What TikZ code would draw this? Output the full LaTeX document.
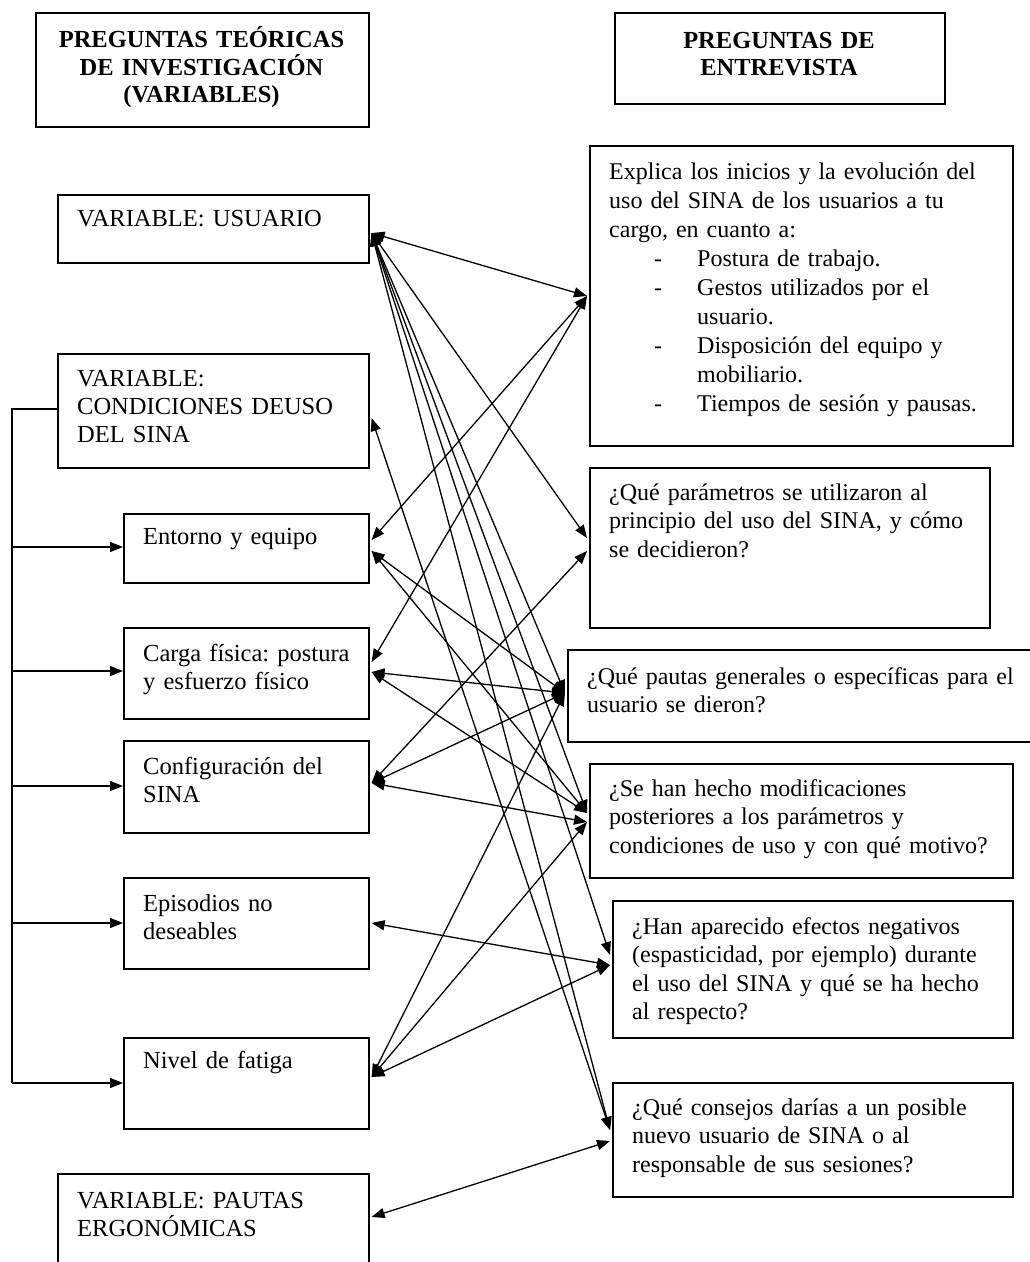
\documentclass[tikz,border=0pt]{standalone}
\usepackage{fontspec}
\setmainfont{Liberation Serif}
\usetikzlibrary{arrows.meta}
\frenchspacing
\begin{document}
\begin{tikzpicture}[x=1pt,y=-1pt,
  bx/.style={draw, line width=1.6pt, anchor=north west, inner sep=0pt},
  txt/.style={anchor=base west, inner sep=0pt, align=left, text width=440pt, font=\fontsize{24.5}{28.5}\selectfont},
  qtxt/.style={txt, font=\fontsize{24}{28.5}\selectfont},
  hd/.style={anchor=base, inner sep=0pt, align=center, text width=320pt, font=\fontsize{24.5}{27.5}\selectfont\bfseries},
  tip/.tip={Triangle[length=13pt,width=10pt]},
  con/.style={line width=1.3pt, tip-tip},
  brk/.style={line width=1.3pt, -tip}
]
\useasboundingbox (0,0) rectangle (1029,1262);
% headers
\node[bx, minimum width=333pt, minimum height=114pt] (hL) at (35,12) {};
\node[bx, minimum width=330pt, minimum height=91pt] (hR) at (614,12) {};
\node[hd] (hLt) at (201.5,47.5) {PREGUNTAS TEÓRICAS\\DE INVESTIGACIÓN\\(VARIABLES)};
\node[hd] (hRt) at (779,48) {PREGUNTAS DE\\ENTREVISTA};
% left boxes
\node[bx, minimum width=311pt, minimum height=68pt] (vU) at (57,194) {};
\node[bx, minimum width=311pt, minimum height=114pt] (vC) at (57,353) {};
\node[bx, minimum width=245pt, minimum height=69pt] (vE) at (123,513) {};
\node[bx, minimum width=245pt, minimum height=91pt] (vCa) at (123,627) {};
\node[bx, minimum width=245pt, minimum height=92pt] (vCf) at (123,740) {};
\node[bx, minimum width=245pt, minimum height=91pt] (vEp) at (123,877) {};
\node[bx, minimum width=245pt, minimum height=91pt] (vN) at (123,1037) {};
\node[bx, minimum width=311pt, minimum height=110pt] (vP) at (57,1173) {};
\node[txt] (vUt) at (77,226) {VARIABLE: USUARIO};
\node[txt, font=\fontsize{24.5}{28}\selectfont] (vCt) at (77,386) {VARIABLE:\\CONDICIONES DEUSO\\DEL SINA};
\node[txt] (vEt) at (143,544) {Entorno y equipo};
\node[txt] (vCat) at (143,661) {Carga física: postura\\y esfuerzo físico};
\node[txt] (vCft) at (143,774) {Configuración del\\SINA};
\node[txt] (vEpt) at (143,911) {Episodios no\\deseables};
\node[txt] (vNt) at (143,1068) {Nivel de fatiga};
\node[txt] (vPt) at (77,1208) {VARIABLE: PAUTAS\\ERGONÓMICAS};
% right boxes
\node[bx, minimum width=423pt, minimum height=300pt] (q1) at (589,145) {};
\node[bx, minimum width=400pt, minimum height=160pt] (q2) at (589,467) {};
\node[bx, minimum width=480pt, minimum height=92pt] (q3) at (567,649) {};
\node[bx, minimum width=423pt, minimum height=114pt] (q4) at (589,763) {};
\node[bx, minimum width=400pt, minimum height=137pt] (q5) at (612,900) {};
\node[bx, minimum width=400pt, minimum height=114pt] (q6) at (612,1082) {};
\node[qtxt, font=\fontsize{24}{29}\selectfont] (q1t) at (609,179) {Explica los inicios y la evolución del\\uso del SINA de los usuarios a tu\\cargo, en cuanto a:\\
\hspace*{45pt}\makebox[43pt][l]{-}Postura de trabajo.\\
\hspace*{45pt}\makebox[43pt][l]{-}Gestos utilizados por el\\
\hspace*{88pt}usuario.\\
\hspace*{45pt}\makebox[43pt][l]{-}Disposición del equipo y\\
\hspace*{88pt}mobiliario.\\
\hspace*{45pt}\makebox[43pt][l]{-}Tiempos de sesión y pausas.};
\node[qtxt] (q2t) at (609,500) {¿Qué parámetros se utilizaron al\\principio del uso del SINA, y cómo\\se decidieron?};
\node[qtxt] (q3t) at (587,684) {¿Qué pautas generales o específicas para el\\usuario se dieron?};
\node[qtxt] (q4t) at (609,796) {¿Se han hecho modificaciones\\posteriores a los parámetros y\\condiciones de uso y con qué motivo?};
\node[qtxt] (q5t) at (632,934) {¿Han aparecido efectos negativos\\(espasticidad, por ejemplo) durante\\el uso del SINA y qué se ha hecho\\al respecto?};
\node[qtxt] (q6t) at (632,1115) {¿Qué consejos darías a un posible\\nuevo usuario de SINA o al\\responsable de sus sesiones?};
% connector end points
\coordinate (aU) at ([xshift=2pt]vU.east |- 0,233);
\coordinate (aC) at ([xshift=2pt]vC.east |- 0,418);
\coordinate (aEa) at ([xshift=2pt]vE.east |- 0,540);
\coordinate (aEb) at ([xshift=2pt]vE.east |- 0,551);
\coordinate (aCa) at ([xshift=2pt]vCa.east |- 0,662);
\coordinate (aCb) at ([xshift=2pt]vCa.east |- 0,672);
\coordinate (aCf) at ([xshift=2pt]vCf.east |- 0,783);
\coordinate (aEp) at ([xshift=2pt]vEp.east |- 0,923);
\coordinate (aN) at ([xshift=2pt]vN.east |- 0,1077);
\coordinate (aP) at ([xshift=2pt]vP.east |- 0,1217);
\coordinate (b1) at ([xshift=-2pt]q1.west |- 0,296);
\coordinate (b2a) at ([xshift=-2pt]q2.west |- 0,538);
\coordinate (b2b) at ([xshift=-2pt]q2.west |- 0,551);
\coordinate (b3) at ([xshift=-2pt]q3.west |- 0,693);
\coordinate (b4a) at ([xshift=-2pt]q4.west |- 0,813);
\coordinate (b4b) at ([xshift=-2pt]q4.west |- 0,822);
\coordinate (b5a) at ([xshift=-2pt]q5.west |- 0,955);
\coordinate (b5b) at ([xshift=-2pt]q5.west |- 0,965);
\coordinate (b6a) at ([xshift=-2pt]q6.west |- 0,1130);
\coordinate (b6b) at ([xshift=-2pt]q6.west |- 0,1141);
% connectors
\draw[con] (aU) -- (b1);
\draw[con] (aU) -- (b2a);
\draw[con] (aU) -- (b3);
\draw[con] (aU) -- (b4a);
\draw[con] (aU) -- (b5a);
\draw[con] (aU) -- (b6a);
\draw[con] (aC) -- (b6a);
\draw[con] (aEa) -- (b1);
\draw[con] (aCa) -- (b1);
\draw[con] (aEb) -- (b3);
\draw[con] (aEb) -- (b4a);
\draw[con] (aCb) -- (b3);
\draw[con] (aCb) -- (b4a);
\draw[con] (aCf) -- (b2b);
\draw[con] (aCf) -- (b3);
\draw[con] (aCf) -- (b4b);
\draw[con] (aEp) -- (b5b);
\draw[con] (aN) -- (b3);
\draw[con] (aN) -- (b4b);
\draw[con] (aN) -- (b5b);
\draw[con] (aP) -- (b6b);
% bracket
\coordinate (k0) at (12,409);
\coordinate (k1) at (12,1083);
\draw[line width=1.3pt] (vC.west |- k0) -- (k0) -- (k1);
\draw[brk] (k0 |- 0,547) -- (vE.west |- 0,547);
\draw[brk] (k0 |- 0,671) -- (vCa.west |- 0,671);
\draw[brk] (k0 |- 0,786) -- (vCf.west |- 0,786);
\draw[brk] (k0 |- 0,923) -- (vEp.west |- 0,923);
\draw[brk] (k1) -- (vN.west |- k1);
\end{tikzpicture}
\end{document}
